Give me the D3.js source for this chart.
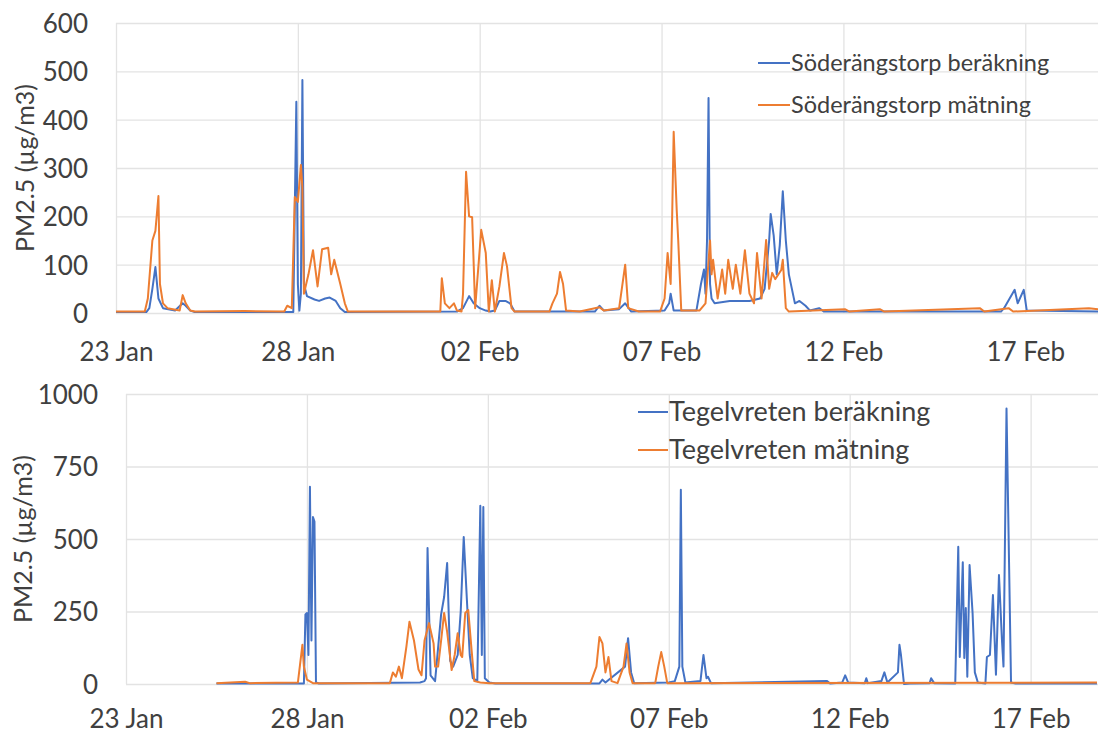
<!DOCTYPE html>
<html>
<head>
<meta charset="utf-8">
<script src="https://cdn.jsdelivr.net/npm/d3@7"></script>
<style>
  html, body { margin: 0; padding: 0; background: #fff; }
  svg { display: block; font-family: Lato, "Open Sans", sans-serif; }
</style>
</head>
<body>
<svg id="chart" width="1098" height="736"></svg>
<script>
// Hourly PM2.5 samples as [hours since 23 Jan 00:00, µg/m3]
const soderBerakning = [
  [0,2],[20,2],[22,10],[24,50],[26,95],[28,30],[31,10],[39,5],[44,20],[46,15],[49,5],[52,2],
  [117,2],[119,437],[120,60],[121,5],[122,40],[123,482],[124,60],[126,35],[131,28],[134,25],[138,30],[141,32],[145,25],[148,10],[151,2],
  [225,3],[229,10],[233,35],[236,20],[240,10],[244,5],[247,3],[250,5],[253,25],[257,25],[260,20],[263,3],
  [316,3],[319,15],[322,5],[332,8],[336,20],[340,3],
  [362,5],[365,20],[366,40],[368,5],
  [383,5],[386,60],[388,90],[389,40],[390,150],[391,445],[392,60],[393,30],[395,20],[405,25],[418,25],[425,30],[428,50],
  [431,150],[432,205],[434,160],[436,80],[438,140],[440,252],[442,150],[444,80],[448,20],[451,25],[455,15],[458,5],[464,10],[467,3],
  [584,3],[586,10],[593,48],[595,20],[599,48],[601,5],[648,3]
];
const soderMatning = [
  [0,3],[19,3],[21,30],[24,150],[26,170],[28,242],[29,60],[31,20],[34,10],[42,5],[44,37],[46,20],[49,5],[52,3],[85,4],
  [111,3],[113,15],[116,10],[118,240],[120,230],[122,306],[123,260],[124,40],[127,80],[130,130],[133,55],[136,132],[140,135],[142,80],[144,110],[148,60],[151,20],[153,3],
  [214,3],[215,72],[217,20],[220,10],[223,20],[225,5],[228,3],[229,40],[231,292],[233,200],[235,198],[237,10],
  [241,172],[244,124],[246,3],[248,68],[250,3],[253,55],[256,124],[258,97],[261,10],[263,3],
  [286,3],[288,20],[291,40],[293,85],[295,60],[297,5],[306,3],[319,12],[322,5],[332,10],[336,100],[338,10],[345,3],
  [359,3],[362,30],[364,124],[366,60],[367,200],[368,375],[370,213],[371,150],[373,5],
  [385,5],[389,20],[392,150],[393,80],[394,110],[397,30],[400,90],[402,40],[404,110],[407,50],[409,100],[412,40],
  [415,130],[418,40],[421,20],[423,124],[426,30],[429,151],[431,50],[433,83],[435,70],[439,89],[440,110],[442,10],[444,3],
  [481,8],[484,3],[504,8],[507,3],[570,10],[573,3],[589,10],[592,3],[642,10],[648,8]
];
const tegelBerakning = [
  [60,2],[116,2],[118,2],[119,240],[120,245],[121,100],[122,680],[123,150],[124,576],[125,560],[126,5],[128,2],
  [195,5],[198,10],[199,20],[200,469],[202,30],[205,10],[209,240],[211,300],[213,417],[215,80],[217,60],[220,100],
  [222,250],[224,507],[226,300],[228,100],[230,20],[233,10],[235,615],[236,100],[237,610],[238,20],[241,5],[245,2],
  [314,2],[316,15],[318,5],[331,60],[333,158],[335,40],[337,3],
  [360,5],[364,10],[367,60],[368,670],[369,60],[371,5],[381,10],[383,100],[385,20],[386,25],[388,3],
  [465,10],[467,2],[475,5],[477,30],[479,5],[490,3],[491,20],[492,3],[501,10],[503,40],[505,5],
  [512,40],[513,135],[514,100],[516,0],[520,2],[533,3],[534,20],[536,3],
  [550,2],[552,473],[553,93],[555,420],[556,90],[557,262],[558,25],[559.5,410],[561.5,245],[563,40],[565,5],[570,2],
  [571,93],[573,100],[575,307],[577,32],[579,376],[581,150],[582,60],[584,950],[587,5],[590,2],[644,2]
];
const tegelMatning = [
  [60,3],[79,8],[82,3],[114,5],[117,135],[118,60],[120,15],[124,3],
  [175,3],[177,40],[179,25],[181,60],[183,20],[186,130],[188,215],[191,150],[194,50],[196,30],[198,150],[201,210],
  [204,140],[205,60],[207,60],[209,150],[211,245],[213,180],[216,48],[218,100],[220,175],[222,100],[223,93],
  [225,245],[227,255],[229,130],[231,10],[235,5],[241,3],
  [308,3],[312,60],[314,162],[316,140],[318,40],[320,93],[322,10],[326,3],[330,60],[332,140],[334,40],[336,3],
  [351,3],[353,60],[355,110],[357,60],[359,3],[644,5]
];

const startDate = new Date(2019, 0, 23);
const endDate = new Date(2019, 1, 19);
const dateTicks = [new Date(2019,0,23), new Date(2019,0,28), new Date(2019,1,2),
                   new Date(2019,1,7), new Date(2019,1,12), new Date(2019,1,17)];
const topYTicks = [0, 100, 200, 300, 400, 500, 600];
const bottomYTicks = [0, 250, 500, 750, 1000];
const topLegend = ["Söderängstorp beräkning", "Söderängstorp mätning"];
const bottomLegend = ["Tegelvreten beräkning", "Tegelvreten mätning"];
const yTitle = "PM2.5 (µg/m3)";

const BLUE = "#4472C4", ORANGE = "#ED7D31", GRID = "#e3e3e3", TEXT = "#404040";
const dateFmt = d3.timeFormat("%d %b");

const svg = d3.select("#chart");

function panel(opt) {
  const g = svg.append("g");
  const x = d3.scaleTime().domain([startDate, endDate]).range(opt.xRange);
  const y = d3.scaleLinear().domain(opt.yDomain).range(opt.yRange);
  const toDate = h => startDate.getTime() + h * 3600e3;

  // gridlines
  g.append("g").call(d3.axisLeft(y).tickValues(opt.yTicks)
      .tickSize(-(opt.xRange[1] - opt.xRange[0])).tickFormat(""))
    .attr("transform", `translate(${opt.xRange[0]},0)`)
    .call(a => a.select(".domain").remove())
    .call(a => a.selectAll("line").attr("stroke", GRID).attr("stroke-width", 1.3));
  g.append("g").call(d3.axisBottom(x).tickValues(dateTicks)
      .tickSize(-(opt.yRange[0] - opt.yRange[1])).tickFormat(""))
    .attr("transform", `translate(0,${opt.yRange[0]})`)
    .call(a => a.select(".domain").remove())
    .call(a => a.selectAll("line").attr("stroke", GRID).attr("stroke-width", 1.3));

  // tick labels
  const yAx = g.append("g").attr("transform", `translate(${opt.yLabelX},0)`)
    .call(d3.axisLeft(y).tickValues(opt.yTicks).tickSize(0).tickPadding(0).tickFormat(d3.format("d")));
  yAx.select(".domain").remove();
  yAx.selectAll("text").attr("font-family", "Lato").attr("font-size", opt.tickSize)
    .attr("fill", TEXT).attr("dy", "0.36em");

  const xAx = g.append("g").attr("transform", `translate(0,${opt.xLabelY})`)
    .call(d3.axisBottom(x).tickValues(dateTicks).tickSize(0).tickPadding(0).tickFormat(dateFmt));
  xAx.select(".domain").remove();
  xAx.selectAll("text").attr("font-family", "Lato").attr("font-size", opt.tickSize)
    .attr("fill", TEXT).attr("dy", "0");

  // axis title
  g.append("text")
    .attr("transform", `translate(${opt.titleX},${(opt.yRange[0] + opt.yRange[1]) / 2}) rotate(-90)`)
    .attr("text-anchor", "middle").attr("dy", "0.35em")
    .attr("font-size", opt.titleSize).attr("fill", TEXT).text(yTitle);

  // series
  const line = d3.line().x(d => x(toDate(d[0]))).y(d => y(d[1]));
  opt.series.forEach(s => {
    g.append("path").datum(s.data).attr("d", line)
      .attr("fill", "none").attr("stroke", s.color).attr("stroke-width", 2)
      .attr("stroke-linejoin", "round");
  });

  // legend
  opt.legend.forEach((name, i) => {
    const ly = opt.legendY[i];
    g.append("line").attr("x1", opt.legendX[0]).attr("x2", opt.legendX[1])
      .attr("y1", ly).attr("y2", ly).attr("stroke", i === 0 ? BLUE : ORANGE).attr("stroke-width", 2);
    g.append("text").attr("x", opt.legendX[1] + 1).attr("y", ly).attr("dy", "0.35em")
      .attr("font-size", opt.legendSize).attr("fill", TEXT).text(name);
  });
}

panel({
  xRange: [116, 1098], yDomain: [0, 600], yRange: [313, 23], yTicks: topYTicks,
  yLabelX: 88, xLabelY: 361, tickSize: 26, titleX: 25, titleSize: 25,
  series: [{data: soderBerakning, color: BLUE}, {data: soderMatning, color: ORANGE}],
  legend: topLegend, legendX: [758, 790], legendY: [63, 105], legendSize: 23.5
});

panel({
  xRange: [126, 1103], yDomain: [0, 1000], yRange: [684, 394], yTicks: bottomYTicks,
  yLabelX: 98, xLabelY: 728, tickSize: 26, titleX: 23, titleSize: 25,
  series: [{data: tegelBerakning, color: BLUE}, {data: tegelMatning, color: ORANGE}],
  legend: bottomLegend, legendX: [638, 668], legendY: [412, 450], legendSize: 27
});
</script>
</body>
</html>
